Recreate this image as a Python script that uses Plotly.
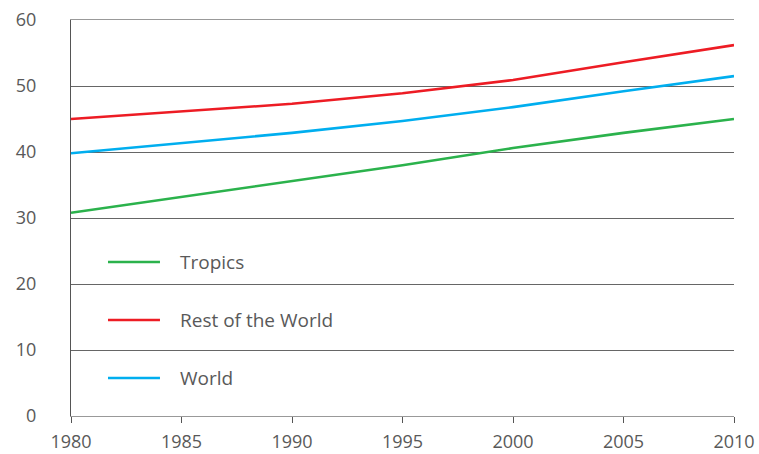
import plotly.graph_objects as go

years = [1980, 1985, 1990, 1995, 2000, 2005, 2010]
tropics = [30.8, 33.2, 35.6, 38.0, 40.6, 42.9, 45.0]
rest_of_world = [45.0, 46.2, 47.3, 48.9, 50.9, 53.6, 56.2]
world = [39.8, 41.4, 42.9, 44.7, 46.8, 49.2, 51.5]

series_names = ["Tropics", "Rest of the World", "World"]
series_values = [tropics, rest_of_world, world]
series_colors = ["#2bb24c", "#ed1c24", "#00aeef"]

x_ticks = [1980, 1985, 1990, 1995, 2000, 2005, 2010]
y_ticks = [0, 10, 20, 30, 40, 50, 60]

FONT = "Open Sans"
TEXT_COLOR = "#595959"

fig = go.Figure()
for name, vals, col in zip(series_names, series_values, series_colors):
    fig.add_trace(go.Scatter(x=years, y=vals, mode="lines", name=name,
                             line=dict(color=col, width=2.6), showlegend=False))

# manual legend (paper coordinates)
legend_y = [0.389, 0.2424, 0.096]
for name, col, ly in zip(series_names, series_colors, legend_y):
    fig.add_shape(type="line", xref="paper", yref="paper",
                  x0=0.0558, x1=0.1342, y0=ly, y1=ly,
                  line=dict(color=col, width=2.6))
    fig.add_annotation(xref="paper", yref="paper", x=0.1614, y=ly,
                       text=name, showarrow=False, xanchor="left", yanchor="middle",
                       font=dict(family=FONT, size=19, color=TEXT_COLOR))

fig.update_layout(
    width=759, height=454,
    margin=dict(l=71, r=25, t=20, b=38, autoexpand=False),
    plot_bgcolor="white", paper_bgcolor="white",
    font=dict(family=FONT, size=18, color=TEXT_COLOR),
    xaxis=dict(range=[1980, 2010], tickvals=x_ticks, ticktext=[str(t) for t in x_ticks],
               showgrid=False, zeroline=False, showline=True, linecolor="#999999",
               linewidth=1, mirror=True, ticks="outside", ticklen=6, tickcolor="#555555",
               automargin=False, ticklabelstandoff=3,
               tickfont=dict(family=FONT, size=18, color=TEXT_COLOR)),
    yaxis=dict(range=[0, 60], tickvals=y_ticks, showgrid=True, gridcolor="#666666",
               gridwidth=1, zeroline=False, showline=True, linecolor="#555555",
               linewidth=1, ticks="", ticklabelstandoff=30, automargin=False,
               tickfont=dict(family=FONT, size=18, color=TEXT_COLOR)),
)

fig.write_html("out.html", config={"displayModeBar": False},
               post_script="document.body.style.margin='0';document.body.style.overflow='hidden';")
